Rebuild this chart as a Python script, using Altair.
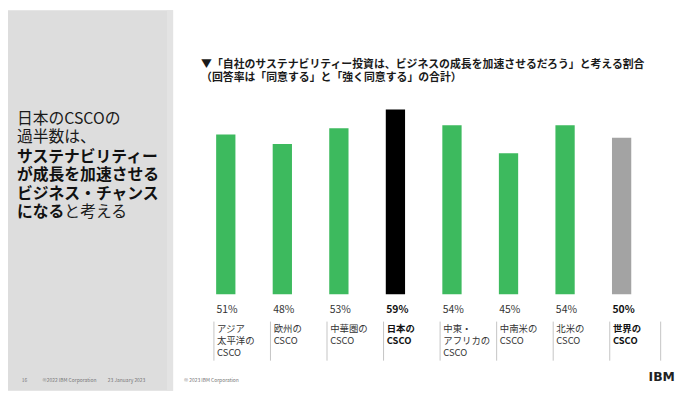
import altair as alt
import pandas as pd

JP = "Noto Sans CJK JP"

# ---- data ----
keys = ["apac", "eu", "gc", "jp", "mea", "latam", "na", "global"]
labels = [
    "アジア\n太平洋の\nCSCO",
    "欧州の\nCSCO",
    "中華圏の\nCSCO",
    "日本の\nCSCO",
    "中東・\nアフリカの\nCSCO",
    "中南米の\nCSCO",
    "北米の\nCSCO",
    "世界の\nCSCO",
]
values = [51, 48, 53, 59, 54, 45, 54, 50]
groups = ["region", "region", "region", "japan", "region", "region", "region", "global"]
emphasis = [False, False, False, True, False, False, False, True]

title_lines = [
    "▼「自社のサステナビリティー投資は、ビジネスの成長を加速させるだろう」と考える割合",
    "（回答率は「同意する」と「強く同意する」の合計）",
]
headline_regular = ["日本のCSCOの", "過半数は、"]
headline_bold = ["サステナビリティー", "が成長を加速させる", "ビジネス・チャンス"]
headline_last_bold = "になる"
headline_last_regular = "と考える"
footer_left = ["16", "©2022 IBM Corporation", "23 January 2023"]
footer_mid = "© 2023 IBM Corporation"

df = pd.DataFrame({
    "key": keys, "label": labels, "value": values,
    "group": groups, "emph": emphasis,
})

W, H = 457.6, 190

xenc = alt.X("key:N", sort=keys, axis=None,
             scale=alt.Scale(domain=keys, paddingInner=0, paddingOuter=0))
base = alt.Chart(df)


def txt(s, x, y, size, weight="normal", color="#222222", align="left"):
    return alt.Chart(pd.DataFrame({"t": [s]})).mark_text(
        align=align, baseline="middle", fontSize=size, fontWeight=weight,
        color=color, font=JP
    ).encode(x=alt.value(x), y=alt.value(y), text="t:N")


# left panel
panel = alt.Chart(pd.DataFrame({"a": [0]})).mark_rect(color="#dddddd").encode(
    x=alt.value(-191.7), x2=alt.value(-24.7), y=alt.value(-97.3), y2=alt.value(287.7))
strip = alt.Chart(pd.DataFrame({"a": [0]})).mark_rect(color="#e3e3e3").encode(
    x=alt.value(-31), x2=alt.value(-24.7), y=alt.value(-97.3), y2=alt.value(287.7))

bars = base.mark_bar(size=19.5).encode(
    x=xenc,
    y=alt.Y("value:Q", axis=None, scale=alt.Scale(domain=[0, 60], nice=False)),
    color=alt.Color("group:N", legend=None,
                    scale=alt.Scale(domain=["region", "japan", "global"],
                                    range=["#3dba5e", "#000000", "#a3a3a3"])),
)

pct_norm = base.transform_filter("!datum.emph").transform_calculate(
    p="datum.value + '%'").mark_text(
    align="left", baseline="middle", dx=-9.3, fontSize=10.5, color="#333333", font=JP
).encode(x=xenc, y=alt.value(206.2), text="p:N")
pct_bold = base.transform_filter("datum.emph").transform_calculate(
    p="datum.value + '%'").mark_text(
    align="left", baseline="middle", dx=-9.3, fontSize=10.5, fontWeight="bold",
    color="#111111", font=JP
).encode(x=xenc, y=alt.value(206.2), text="p:N")

lab_norm = base.transform_filter("!datum.emph").mark_text(
    align="left", baseline="top", dx=-8.8, fontSize=9.5, lineHeight=11.8,
    lineBreak="\n", color="#333333", font=JP
).encode(x=xenc, y=alt.value(220.5), text="label:N")
lab_bold = base.transform_filter("datum.emph").mark_text(
    align="left", baseline="top", dx=-8.8, fontSize=9.5, lineHeight=11.8,
    lineBreak="\n", fontWeight="bold", color="#111111", font=JP
).encode(x=xenc, y=alt.value(220.5), text="label:N")

rules = base.mark_rule(xOffset=-12, color="#c4c4c4", strokeWidth=1).encode(
    x=xenc, y=alt.value(217.7), y2=alt.value(257.2))
rule_end = base.transform_filter("datum.key == 'global'").mark_rule(
    xOffset=39.5, color="#c4c4c4", strokeWidth=1).encode(
    x=xenc, y=alt.value(217.7), y2=alt.value(257.2))

layers = [panel, strip, bars, rules, rule_end, pct_norm, pct_bold, lab_norm, lab_bold]

# title
layers.append(txt(title_lines[0], 3.6, -42, 11, "bold", "#1a1a1a"))
layers.append(txt(title_lines[1], 3.6, -29, 11, "bold", "#1a1a1a"))

# headline
hx = -182.7
hs = 16
hy = [12.4, 31.4, 51.2, 69.9, 88.7, 106.6]
for i, s in enumerate(headline_regular):
    layers.append(txt(s, hx, hy[i], hs, "normal", "#1a1a1a"))
for i, s in enumerate(headline_bold):
    layers.append(txt(s, hx, hy[i + 2], hs, "bold", "#111111"))
layers.append(txt(headline_last_bold, hx, hy[5], hs, "bold", "#111111"))
layers.append(txt(headline_last_regular, hx + 3 * hs, hy[5], hs, "normal", "#1a1a1a"))

# footer
fy = 276.7
for s, x in zip(footer_left, [-177.7, -156.7, -90.7]):
    layers.append(txt(s, x, fy, 5, "normal", "#777777"))
layers.append(txt(footer_mid, -13.7, fy, 5, "normal", "#777777"))
layers.append(alt.Chart(pd.DataFrame({"t": ["IBM"]})).mark_text(
    align="left", baseline="middle", fontSize=12.5, fontWeight="bold",
    color="#222222", font="DejaVu Sans"
).encode(x=alt.value(456.3), y=alt.value(273.7), text="t:N"))

chart = alt.layer(*layers).properties(
    width=W, height=H,
    padding={"left": 191.7, "top": 97.3, "right": 42.6, "bottom": 97.7},
    autosize=alt.AutoSizeParams(type="none"),
    background="#ffffff",
).configure_view(stroke=None)

chart.save("out.html", embed_options={"renderer": "svg", "actions": False})
